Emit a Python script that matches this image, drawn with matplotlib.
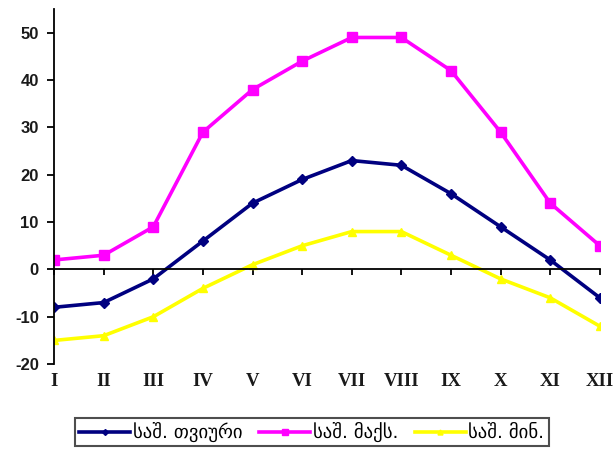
import matplotlib
matplotlib.use("Agg")
import matplotlib.pyplot as plt
from matplotlib.transforms import blended_transform_factory

months = ["I", "II", "III", "IV", "V", "VI", "VII", "VIII", "IX", "X", "XI", "XII"]
avg_temp = [-8, -7, -2, 6, 14, 19, 23, 22, 16, 9, 2, -6]
max_temp = [2, 3, 9, 29, 38, 44, 49, 49, 42, 29, 14, 5]
min_temp = [-15, -14, -10, -4, 1, 5, 8, 8, 3, -2, -6, -12]
labels = ["საშ. თვიური", "საშ. მაქს.", "საშ. მინ."]
y_ticks = [-20, -10, 0, 10, 20, 30, 40, 50]

fig = plt.figure(figsize=(6.14, 4.54), dpi=100)
ax = fig.add_axes([0.088, 0.198, 0.889, 0.782])

x = list(range(len(months)))
ax.plot(x, avg_temp, color="#000080", lw=2.6, marker="D", ms=5, label=labels[0])
ax.plot(x, max_temp, color="#FF00FF", lw=2.6, marker="s", ms=6.5, label=labels[1])
ax.plot(x, min_temp, color="#FFFF00", lw=2.6, marker="^", ms=6, label=labels[2])

ax.set_xlim(0, len(months) - 1)
ax.set_ylim(-20, 55)
ax.set_yticks(y_ticks)
ax.set_yticklabels([str(v) for v in y_ticks], fontfamily="Liberation Sans",
                   fontweight="bold", fontsize=12, color="#1a1a1a")

for s in ("top", "right"):
    ax.spines[s].set_visible(False)
ax.spines["bottom"].set_position(("data", 0))
ax.spines["left"].set_linewidth(1.3)
ax.spines["bottom"].set_linewidth(1.3)
ax.tick_params(axis="y", direction="out", length=5, width=1.3, pad=6)
ax.set_xticks(x)
ax.set_xticklabels([])
ax.tick_params(axis="x", direction="out", length=4, width=1.3)

trans = blended_transform_factory(ax.transData, ax.transAxes)
for xi, m in zip(x, months):
    ax.text(xi, -0.05, m, transform=trans, ha="center", va="center",
            fontfamily="Liberation Serif", fontweight="bold", fontsize=13.5,
            color="#1a1a1a")

leg = fig.legend(loc="center", bbox_to_anchor=(0.508, 0.048), ncol=3,
                 frameon=True, fancybox=False, edgecolor="#222222",
                 handlelength=2.7, handletextpad=0.15, columnspacing=0.9,
                 borderpad=0.22, markerscale=0.6,
                 prop={"family": ["DejaVu Sans"], "size": 13.5})
leg.get_frame().set_linewidth(1.5)

fig.savefig("out.png", dpi=100)
